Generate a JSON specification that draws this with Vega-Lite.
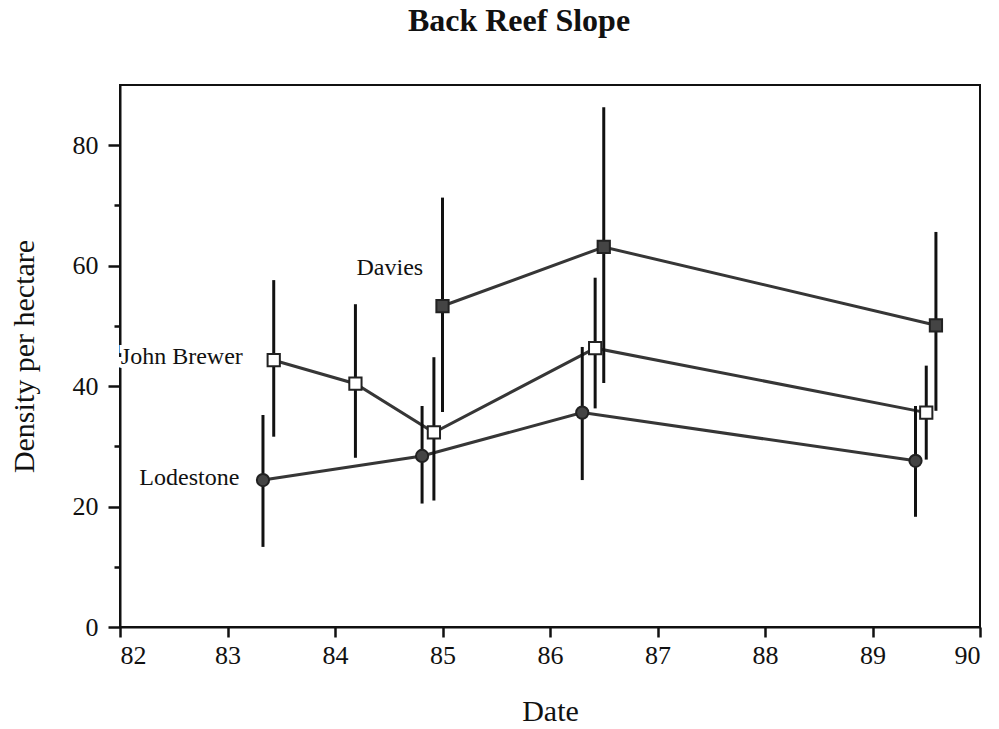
{
  "$schema": "https://vega.github.io/schema/vega-lite/v6.json",
  "width": 860,
  "height": 542,
  "autosize": "none",
  "padding": {"left": 120, "top": 85, "right": 19, "bottom": 102},
  "background": "white",
  "title": {
    "text": "Back Reef Slope",
    "font": "Liberation Serif",
    "fontSize": 32,
    "fontWeight": "bold",
    "color": "#111",
    "anchor": "middle",
    "dx": -31,
    "offset": 47
  },
  "config": {
    "view": {"stroke": "#111", "strokeWidth": 2},
    "axis": {
      "labelFont": "Liberation Serif",
      "titleFont": "Liberation Serif",
      "labelFontSize": 26,
      "titleFontSize": 30,
      "titleFontWeight": "normal",
      "labelColor": "#111",
      "titleColor": "#111",
      "domainColor": "#111",
      "domainWidth": 2,
      "tickColor": "#111",
      "tickWidth": 2.5,
      "grid": false
    }
  },
  "data": {
    "values": [
      {"series": "Lodestone", "date": 83.33, "density": 24.4, "lo": 13.3, "hi": 35.2},
      {"series": "Lodestone", "date": 84.81, "density": 28.4, "lo": 20.5, "hi": 36.7},
      {"series": "Lodestone", "date": 86.30, "density": 35.6, "lo": 24.4, "hi": 46.5},
      {"series": "Lodestone", "date": 89.40, "density": 27.6, "lo": 18.3, "hi": 36.7},
      {"series": "John Brewer", "date": 83.43, "density": 44.3, "lo": 31.6, "hi": 57.6},
      {"series": "John Brewer", "date": 84.19, "density": 40.4, "lo": 28.1, "hi": 53.6},
      {"series": "John Brewer", "date": 84.92, "density": 32.3, "lo": 21.0, "hi": 44.8},
      {"series": "John Brewer", "date": 86.42, "density": 46.3, "lo": 36.3, "hi": 58.0},
      {"series": "John Brewer", "date": 89.50, "density": 35.6, "lo": 27.8, "hi": 43.4},
      {"series": "Davies", "date": 85.0, "density": 53.3, "lo": 35.7, "hi": 71.3},
      {"series": "Davies", "date": 86.50, "density": 63.1, "lo": 40.5, "hi": 86.3},
      {"series": "Davies", "date": 89.59, "density": 50.1, "lo": 35.9, "hi": 65.6}
    ]
  },
  "encoding": {
    "x": {
      "field": "date", "type": "quantitative",
      "scale": {"domain": [82, 90], "nice": false, "zero": false},
      "axis": {"title": "Date", "values": [82, 83, 84, 85, 86, 87, 88, 89, 90], "tickSize": 10, "labelPadding": 5, "titlePadding": 28}
    },
    "y": {
      "field": "density", "type": "quantitative",
      "scale": {"domain": [0, 90], "nice": false},
      "axis": {
        "title": "Density per hectare",
        "values": [0, 10, 20, 30, 40, 50, 60, 70, 80],
        "labelExpr": "datum.value % 20 == 0 ? datum.label : ''",
        "tickSize": {"condition": {"test": "datum.value % 20 == 0", "value": 12}, "value": 6},
        "labelPadding": 10,
        "titlePadding": 33
      }
    }
  },
  "layer": [
    {
      "mark": {"type": "line", "color": "#363636", "strokeWidth": 3},
      "encoding": {"detail": {"field": "series"}, "order": {"field": "date"}}
    },
    {
      "mark": {"type": "rule", "color": "#111", "strokeWidth": 3},
      "encoding": {"y": {"field": "lo", "type": "quantitative"}, "y2": {"field": "hi"}}
    },
    {
      "mark": {"type": "point", "filled": true, "stroke": "#222", "strokeWidth": 2, "size": 150, "opacity": 1},
      "encoding": {
        "shape": {"field": "series", "type": "nominal", "scale": {"domain": ["Lodestone", "John Brewer", "Davies"], "range": ["circle", "square", "square"]}, "legend": null},
        "fill": {"field": "series", "type": "nominal", "scale": {"domain": ["Lodestone", "John Brewer", "Davies"], "range": ["#444", "white", "#444"]}, "legend": null}
      }
    },
    {
      "data": {
        "name": "labels",
        "values": [
          {"label": "Davies", "lx": 84.51, "ly": 59.6},
          {"label": "John Brewer", "lx": 82.575, "ly": 44.8},
          {"label": "Lodestone", "lx": 82.645, "ly": 24.7}
        ]
      },
      "layer": [
        {
          "mark": {"type": "text", "font": "Liberation Serif", "fontSize": 24, "color": "white", "stroke": "white", "strokeWidth": 8, "align": "center", "baseline": "middle"},
          "encoding": {
            "x": {"field": "lx", "type": "quantitative"},
            "y": {"field": "ly", "type": "quantitative"},
            "text": {"field": "label"}
          }
        },
        {
          "mark": {"type": "text", "font": "Liberation Serif", "fontSize": 24, "color": "#111", "align": "center", "baseline": "middle"},
          "encoding": {
            "x": {"field": "lx", "type": "quantitative"},
            "y": {"field": "ly", "type": "quantitative"},
            "text": {"field": "label"}
          }
        }
      ]
    }
  ]
}
